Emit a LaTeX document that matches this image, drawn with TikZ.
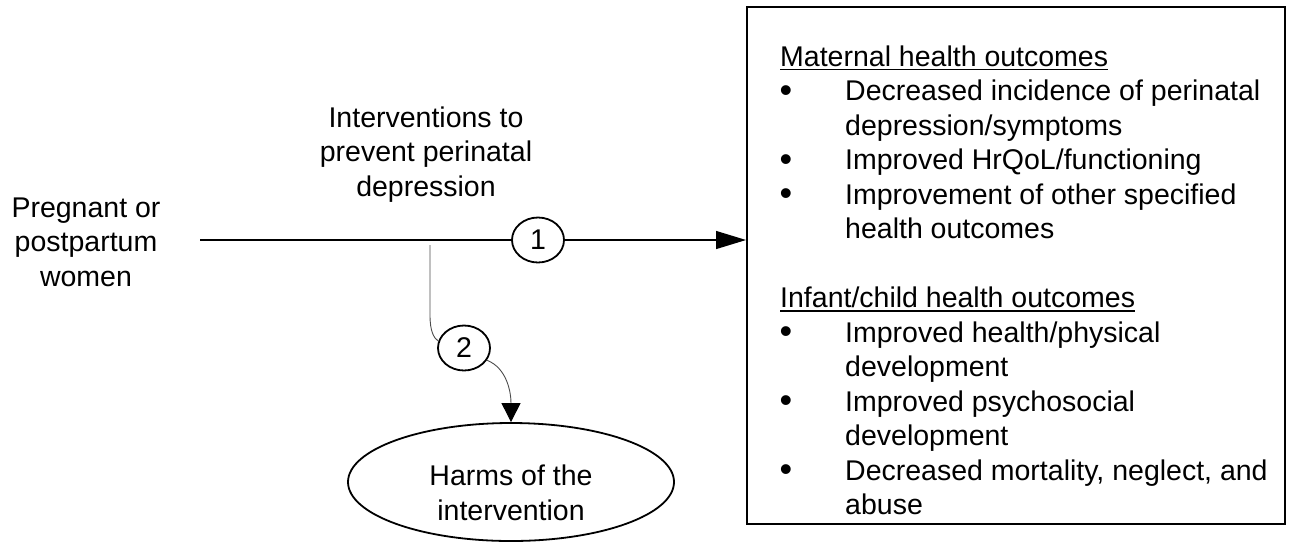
\documentclass[tikz,border=0pt]{standalone}
\usepackage{fontspec}
\setmainfont{Liberation Sans}
\usetikzlibrary{shapes.geometric,arrows.meta}
\begin{document}
\begin{tikzpicture}[x=1pt,y=-1pt,
  every node/.style={font=\fontsize{28.5pt}{34.5pt}\selectfont, inner sep=0pt},
  lbl/.style={align=center},
  numcirc/.style={ellipse, draw, line width=1.8pt, minimum width=52pt, minimum height=45pt},
  itemtxt/.style={anchor=base west},
  bul/.style={anchor=base, font=\fontsize{36pt}{36pt}\selectfont},
  mainline/.style={line width=1.2pt},
  sideline/.style={line width=0.9pt, draw=black!70},
  bigtip/.style={-{Triangle[length=30pt,width=18pt]}},
  smalltip/.style={-{Triangle[length=19pt,width=19pt,black]}},
  uline/.style={line width=1.4pt},
]
\useasboundingbox (0,0) rectangle (1297,542);

% left texts
\node[lbl] (preg) at (86,242) {Pregnant or\\postpartum\\women};
\node[lbl] (interv) at (426,154.5) {Interventions to\\prevent perinatal\\depression};

% numbered circles
\node[numcirc] (c1) at (538,240) {1};
\node[numcirc] (c2) at (464,348) {2};

% harms ellipse
\node[ellipse, draw, line width=1.8pt, minimum width=326pt, minimum height=118pt] (harms) at (511,482) {};
\node[lbl] (harmstext) at (511,493) {Harms of the\\intervention};

% outcomes box
\node[draw, line width=2pt, minimum width=538pt, minimum height=517pt, anchor=north west] (outbox) at (746,6) {};

\node[itemtxt] (hMat) at (780,66) {Maternal health outcomes};
\node[bul] (b1) at (786,102) {•};
\node[itemtxt] (m1a) at (845,100.5) {Decreased incidence of perinatal};
\node[itemtxt] (m1b) at (845,135) {depression/symptoms};
\node[bul] (b2) at (786,171) {•};
\node[itemtxt] (m2) at (845,169.5) {Improved HrQoL/functioning};
\node[bul] (b3) at (786,205.5) {•};
\node[itemtxt] (m3a) at (845,204) {Improvement of other specified};
\node[itemtxt] (m3b) at (845,238.5) {health outcomes};

\node[itemtxt] (hInf) at (780,307.5) {Infant/child health outcomes};
\node[bul] (b4) at (786,343.5) {•};
\node[itemtxt] (i1a) at (845,342) {Improved health/physical};
\node[itemtxt] (i1b) at (845,376.5) {development};
\node[bul] (b5) at (786,412.5) {•};
\node[itemtxt] (i2a) at (845,411) {Improved psychosocial};
\node[itemtxt] (i2b) at (845,445.5) {development};
\node[bul] (b6) at (786,481.5) {•};
\node[itemtxt] (i3a) at (845,480) {Decreased mortality, neglect, and};
\node[itemtxt] (i3b) at (845,514.5) {abuse};

\draw[uline] ([yshift=-3.5pt]hMat.base west) -- ([yshift=-3.5pt]hMat.base east);
\draw[uline] ([yshift=-3.5pt]hInf.base west) -- ([yshift=-3.5pt]hInf.base east);

% connectors
\coordinate (start) at (200,240);
\coordinate (branch) at (430,245);
\draw[mainline] (start) -- (c1.west);
\draw[mainline, bigtip] (c1.east) -- (c1.east -| outbox.west);
\draw[sideline] (branch) -- (430,315) .. controls (430,332) and (434,338) .. (c2.165);
\draw[sideline, smalltip] (c2.-28) .. controls +(20,8) and +(0,-30) .. (harms.north);
\end{tikzpicture}
\end{document}
